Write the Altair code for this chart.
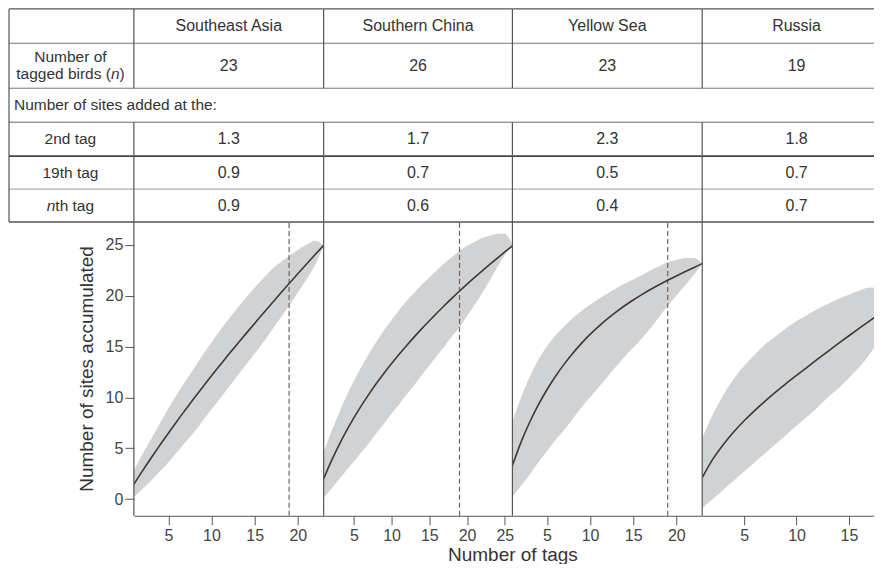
import altair as alt
import pandas as pd

# ---------------- data ----------------
regions = ["Southeast Asia", "Southern China", "Yellow Sea", "Russia"]
n_birds = ["23", "26", "23", "19"]
added_2nd = ["1.3", "1.7", "2.3", "1.8"]
added_19th = ["0.9", "0.7", "0.5", "0.7"]
added_nth = ["0.9", "0.6", "0.4", "0.7"]
common_tag = 19

tags_sea = list(range(1, 24))
mean_sea = [1.45, 2.77, 4.04, 5.28, 6.48, 7.66, 8.80, 9.93, 11.03, 12.12, 13.18, 14.23,
            15.25, 16.27, 17.27, 18.27, 19.25, 20.23, 21.19, 22.15, 23.09, 24.03, 24.95]
low_sea = [0.2, 1.0, 1.8, 2.7, 3.6, 4.6, 5.6, 6.6, 7.7, 8.8, 9.9, 11.0, 12.1,
           13.2, 14.3, 15.4, 16.6, 17.8, 19.0, 20.3, 21.6, 23.0, 24.95]
up_sea = [2.8, 4.4, 5.9, 7.4, 8.9, 10.3, 11.6, 12.9, 14.2, 15.4, 16.6, 17.7, 18.8,
          19.8, 20.8, 21.7, 22.6, 23.3, 23.9, 24.5, 25.0, 25.4, 24.95]

tags_sch = list(range(1, 27))
mean_sch = [2.00, 3.70, 5.25, 6.67, 7.98, 9.19, 10.32, 11.38, 12.38, 13.33, 14.24, 15.11,
            15.95, 16.76, 17.54, 18.30, 19.04, 19.76, 20.46, 21.14, 21.80, 22.44, 23.07,
            23.69, 24.30, 24.90]
low_sch = [0.1, 1.0, 1.9, 2.8, 3.7, 4.6, 5.5, 6.5, 7.4, 8.4, 9.3, 10.3, 11.2,
           12.2, 13.1, 14.1, 15.0, 16.0, 16.9, 18.0, 19.1, 20.3, 21.5, 22.8, 24.0, 24.9]
up_sch = [4.6, 6.6, 8.4, 10.1, 11.6, 13.0, 14.3, 15.5, 16.6, 17.6, 18.6, 19.5, 20.3,
          21.1, 21.8, 22.5, 23.2, 23.8, 24.4, 24.9, 25.3, 25.7, 25.9, 26.1, 26.1, 24.9]

tags_ys = list(range(1, 24))
mean_ys = [3.30, 5.60, 7.55, 9.25, 10.75, 12.08, 13.27, 14.34, 15.31, 16.19, 16.99, 17.72,
           18.39, 19.01, 19.58, 20.11, 20.61, 21.08, 21.52, 21.94, 22.35, 22.75, 23.15]
low_ys = [0.2, 1.3, 2.4, 3.6, 4.7, 5.8, 6.8, 7.9, 9.0, 10.0, 11.0, 12.0, 13.0,
          14.0, 14.9, 15.8, 16.8, 17.9, 19.0, 20.0, 21.0, 22.0, 23.15]
up_ys = [7.6, 10.0, 12.0, 13.7, 15.0, 16.1, 17.0, 17.8, 18.5, 19.1, 19.7, 20.2, 20.7,
         21.2, 21.6, 22.0, 22.5, 22.9, 23.3, 23.5, 23.7, 23.7, 23.15]

tags_ru = list(range(1, 20))
mean_ru = [2.10, 3.90, 5.35, 6.60, 7.70, 8.70, 9.63, 10.51, 11.35, 12.16, 12.96, 13.75,
           14.53, 15.30, 16.06, 16.81, 17.55, 18.27, 18.97]
low_ru = [-0.9, 0.0, 0.9, 1.8, 2.7, 3.6, 4.5, 5.4, 6.3, 7.2, 8.1, 9.0, 10.0,
          10.9, 11.9, 13.0, 14.3, 15.9, 18.97]
up_ru = [6.0, 8.3, 10.2, 11.8, 13.1, 14.2, 15.2, 16.0, 16.8, 17.5, 18.1, 18.7, 19.2,
         19.7, 20.1, 20.5, 20.8, 20.6, 18.97]

x_ticks = [[5, 10, 15, 20], [5, 10, 15, 20, 25], [5, 10, 15, 20], [5, 10, 15]]
y_ticks = [0, 5, 10, 15, 20, 25]

# ---------------- layout / style ----------------
FONT = "Liberation Sans"
TXT = "#333333"
W = [190, 189, 190, 180]            # plot widths of the 4 panels
X_MAX = [23, 26, 23, 18.15]         # visible end of each x axis
H = 508                             # table + plot height
ROWS = [0.6, 35, 80, 114, 148, 181, 214]
ROW_COL = ["#555555", "#777777", "#777777", "#666666", "#444444", "#999999", "#555555"]
ROW_SW = [1.2, 1, 1, 1, 1.6, 1, 1.5]
LEFT = -125
Y_DOM = [-1.64, 48.26]
Y_PLOT_TOP = 27.24
COL_C = [95, 94.5, 95, 94.5]
ROW_Y = {"head": 17.5, "n": 57.5, "sites": 97, "2nd": 131, "19th": 164.5, "nth": 197.5}

series = [
    (tags_sea, mean_sea, low_sea, up_sea),
    (tags_sch, mean_sch, low_sch, up_sch),
    (tags_ys, mean_ys, low_ys, up_ys),
    (tags_ru, mean_ru, low_ru, up_ru),
]


def panel(i):
    tags, mean, low, up = series[i]
    w = W[i]
    df = pd.DataFrame({"tag": tags, "mean": mean, "low": low, "up": up})
    xs = alt.Scale(domain=[1, X_MAX[i]], nice=False, zero=False)
    ys = alt.Scale(domain=Y_DOM, nice=False, zero=False)

    xaxis_kw = dict(values=x_ticks[i], grid=False, domain=True, domainColor="#555555",
                    domainWidth=1.2, tickColor="#555555", tickSize=9, labelPadding=2.5,
                    labelFont=FONT, labelFontSize=16, labelColor="#444444",
                    labelFlush=False)
    if i == 1:
        xaxis = alt.Axis(title="Number of tags", titleX=w, titleY=45, titleAlign="center",
                         titleBaseline="alphabetic", titleFont=FONT, titleFontSize=19,
                         titleFontWeight="normal", titleColor=TXT, **xaxis_kw)
    else:
        xaxis = alt.Axis(title=None, **xaxis_kw)
    if i == 0:
        yaxis = alt.Axis(values=y_ticks, grid=False, domain=False, tickColor="#555555",
                         tickSize=9, labelPadding=2, labelFont=FONT, labelFontSize=16,
                         labelColor="#444444", title="Number of sites accumulated",
                         titleX=-41, titleY=360.5, titleAngle=270, titleAlign="center",
                         titleBaseline="alphabetic", titleFont=FONT, titleFontSize=19,
                         titleFontWeight="normal", titleColor=TXT)
    else:
        yaxis = None

    base = alt.Chart(df)
    area = base.mark_area(color="#d1d2d4", clip=True, interpolate="monotone").encode(
        x=alt.X("tag:Q", scale=xs, axis=xaxis),
        y=alt.Y("low:Q", scale=ys, axis=yaxis),
        y2="up:Q",
    )
    line = base.mark_line(color="#3a3a3a", strokeWidth=1.6, clip=True,
                          interpolate="monotone").encode(x="tag:Q", y="mean:Q")
    layers = [area]
    if i < 3:
        dashed = alt.Chart(pd.DataFrame({"tag": [common_tag]})).mark_rule(
            color="#666666", strokeDash=[5, 3], strokeWidth=1.2).encode(
            x="tag:Q", y=alt.datum(Y_DOM[0]), y2=alt.datum(Y_PLOT_TOP))
        layers.append(dashed)
    layers.append(line)
    plot = alt.layer(*layers)

    # ---- table part (pixel scales) ----
    tx = alt.Scale(domain=[0, w], range=[0, w], nice=False, zero=False)
    ty = alt.Scale(domain=[H, 0], nice=False, zero=False)
    x0 = LEFT if i == 0 else 0
    rl = []
    for r, c, s in zip(ROWS, ROW_COL, ROW_SW):
        rl.append(dict(x=x0, x2=w, y=r, y2=r, c=c, s=s))
    rl.append(dict(x=0, x2=0, y=ROWS[0], y2=ROWS[2], c="#555555", s=1.2))
    rl.append(dict(x=0, x2=0, y=ROWS[3], y2=H, c="#555555", s=1.2))
    if i == 0:
        rl.append(dict(x=LEFT, x2=LEFT, y=ROWS[0], y2=ROWS[-1], c="#555555", s=1.2))
    rules = alt.Chart(pd.DataFrame(rl)).mark_rule().encode(
        x=alt.X("x:Q", scale=tx, axis=None), x2="x2:Q",
        y=alt.Y("y:Q", scale=ty, axis=None), y2="y2:Q",
        color=alt.Color("c:N", scale=None), strokeWidth=alt.StrokeWidth("s:Q", scale=None))

    cx = COL_C[i]
    cells = pd.DataFrame([
        dict(x=cx, y=ROW_Y["head"], t=regions[i]),
        dict(x=cx, y=ROW_Y["n"], t=n_birds[i]),
        dict(x=cx, y=ROW_Y["2nd"], t=added_2nd[i]),
        dict(x=cx, y=ROW_Y["19th"], t=added_19th[i]),
        dict(x=cx, y=ROW_Y["nth"], t=added_nth[i]),
    ])
    tlayers = [rules, alt.Chart(cells).mark_text(
        font=FONT, fontSize=16, color=TXT, baseline="middle", align="center").encode(
        x=alt.X("x:Q", scale=tx, axis=None), y=alt.Y("y:Q", scale=ty, axis=None), text="t:N")]

    if i == 0:
        def txt(rows, align="center", style="normal"):
            return alt.Chart(pd.DataFrame(rows)).mark_text(
                font=FONT, fontSize=15.5, color=TXT, baseline="middle", align=align,
                fontStyle=style).encode(
                x=alt.X("x:Q", scale=tx, axis=None), y=alt.Y("y:Q", scale=ty, axis=None),
                text="t:N")
        tlayers.append(txt([
            dict(x=-63.5, y=49, t="Number of"),
            dict(x=-63.5, y=ROW_Y["2nd"], t="2nd tag"),
            dict(x=-63.5, y=ROW_Y["19th"], t="19th tag"),
        ]))
        tlayers.append(txt([
            dict(x=-23.0, y=66, t="tagged birds ("),
        ], align="right"))
        tlayers.append(txt([
            dict(x=-14.4, y=66, t=")"),
            dict(x=-78.6, y=ROW_Y["nth"], t="th tag"),
            dict(x=-120, y=ROW_Y["sites"], t="Number of sites added at the:"),
        ], align="left"))
        tlayers.append(txt([
            dict(x=-23.0, y=66, t="n"),
            dict(x=-87.2, y=ROW_Y["nth"], t="n"),
        ], align="left", style="italic"))

    table = alt.layer(*tlayers)
    return alt.layer(plot, table).resolve_scale(x="independent", y="independent").properties(
        width=w, height=H)


chart = alt.hconcat(*[panel(i) for i in range(4)], spacing=0, bounds="flush").properties(
    padding={"left": 0, "top": 0, "right": -9, "bottom": -1},
    background="white").configure_view(strokeWidth=0)

chart.save("out.html", embed_options={"renderer": "svg", "actions": False})
